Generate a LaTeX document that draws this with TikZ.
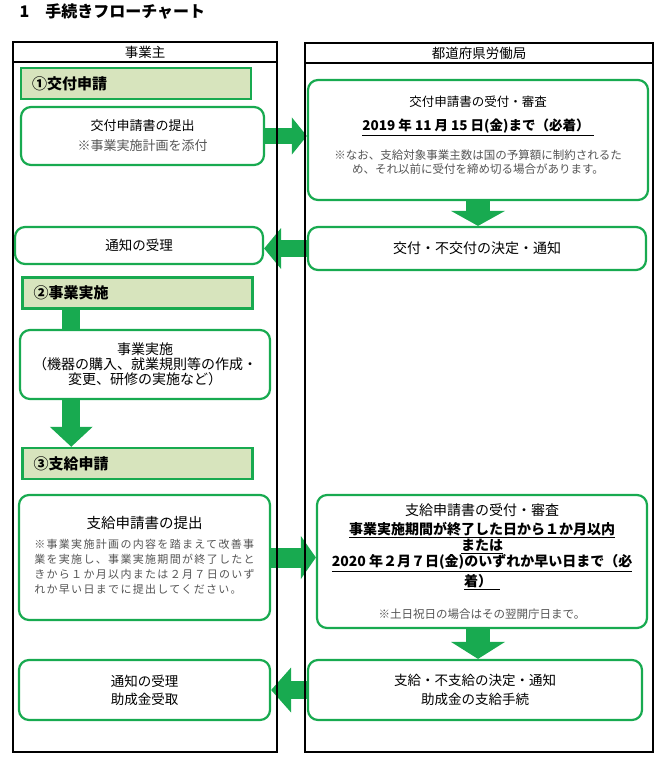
\documentclass[tikz,border=0pt]{standalone}
\usepackage{fontspec}
\setmainfont{Noto Sans CJK JP}
\newfontfamily\notefont[LetterSpace=12]{Noto Sans CJK JP}
\usetikzlibrary{arrows.meta}
\definecolor{jgreen}{RGB}{24,170,80}
\definecolor{jolive}{RGB}{215,228,189}
\definecolor{jnote}{RGB}{85,85,85}
\tikzset{
	flowbox/.style={draw=jgreen, line width=2.2pt, rounded corners=10pt, fill=white, align=center, inner sep=0pt},
	stagebox/.style={draw=jgreen, line width=2.5pt, fill=jolive, align=left, text width=208pt, inner xsep=11pt, inner ysep=0pt, minimum height=31pt, font=\fontsize{15}{16}\selectfont\bfseries},
	blockarrow/.style n args={3}{draw=jgreen, line width=#1, -{Triangle[width=#2, length=#3, line width=0pt]}},
	lane/.style={draw=black, line width=1.5pt}
}
\begin{document}
\begin{tikzpicture}[x=1pt, y=-1pt]
	\useasboundingbox (0,0) rectangle (662,765);
	
	\node [anchor=west, font=\fontsize{16}{18}\selectfont\bfseries] (title) at (16,12) {1　手続きフローチャート};
	
	\node [stagebox] (stage1) at (136,83.5) {①交付申請};
	\node [flowbox, minimum width=243pt, minimum height=58pt, font=\fontsize{13}{15}\selectfont] (sub1) at (142.5,136) {交付申請書の提出\\[5pt]{\color{jnote}※事業実施計画を添付}};
	\node [flowbox, minimum width=248pt, minimum height=37pt, font=\fontsize{13.5}{15}\selectfont] (recv1) at (139,245.5) {通知の受理};
	
	\node [stagebox] (stage2) at (137.5,293) {②事業実施};
	\node [flowbox, minimum width=250pt, minimum height=69pt, font=\fontsize{14}{15}\selectfont] (impl) at (145,364.5) {事業実施\\（機器の購入、就業規則等の作成・\\変更、研修の実施など）};
	
	\node [stagebox] (stage3) at (137.5,463.5) {③支給申請};
	\node [flowbox, minimum width=251pt, minimum height=125pt, font=\fontsize{11}{15}\selectfont] (sub2) at (144.5,557.5) {{\fontsize{14.5}{16}\selectfont 支給申請書の提出}\\[5pt]{\color{jnote}\notefont\fontsize{11}{15}\selectfont\begin{tabular}[t]{@{}l@{}}
		※事業実施計画の内容を踏まえて改善事\\
		業を実施し、事業実施期間が終了したと\\
		きから１か月以内または２月７日のいず\\
		れか早い日までに提出してください。
	\end{tabular}}};
	\node [flowbox, minimum width=251pt, minimum height=60pt, font=\fontsize{13.5}{18}\selectfont] (recv2) at (144.5,690) {通知の受理\\助成金受取};
	
	\node [flowbox, minimum width=340pt, minimum height=120pt, font=\fontsize{11.5}{14}\selectfont] (rc1) at (478,140) {{\fontsize{12.5}{14}\selectfont 交付申請書の受付・審査}\\[10pt]{\fontsize{13.5}{14}\selectfont\bfseries\underline{2019 年 11 月 15 日(金)まで（必着）\hspace{4pt}}}\\[13pt]{\color{jnote}※なお、支給対象事業主数は国の予算額に制約されるた}\\{\color{jnote}め、それ以前に受付を締め切る場合があります。}\rule[-11pt]{0pt}{11pt}};
	\node [flowbox, minimum width=338pt, minimum height=43pt, font=\fontsize{14}{15}\selectfont] (rc2) at (477,248.5) {交付・不交付の決定・通知};
	
	\node [flowbox, minimum width=330pt, minimum height=133pt, font=\fontsize{14}{15}\selectfont] (rc3) at (482,561.5) {支給申請書の受付・審査\\[4pt]\textbf{\underline{事業実施期間が終了した日から１か月以内}}\\[1pt]\textbf{\underline{または}}\\\textbf{\underline{2020 年２月７日(金)のいずれか早い日まで（必}}\\[2pt]\textbf{\underline{着）\hspace{8pt}}}\\[17pt]{\color{jnote}\fontsize{11.5}{14}\selectfont ※土日祝日の場合はその翌開庁日まで。}};
	\node [flowbox, minimum width=334pt, minimum height=60pt, font=\fontsize{13.5}{19}\selectfont] (rc4) at (475,690) {支給・不支給の決定・通知\\助成金の支給手続};
	
	\draw [blockarrow={15pt}{37pt}{15pt}] (sub1.east) -- (sub1.east -| rc1.west);
	\draw [blockarrow={24pt}{54pt}{15pt}] (rc1.south) -- (rc1.south |- rc2.north);
	\draw [blockarrow={17pt}{41pt}{17pt}] (rc2.west) -- (rc2.west -| recv1.east);
	\coordinate (lbar) at ([xshift=50pt]stage2.south west);
	\draw [jgreen, line width=18pt] (lbar) -- (lbar |- impl.north);
	\draw [blockarrow={18pt}{43pt}{20pt}] (impl.south -| lbar) -- (stage3.north -| lbar);
	\draw [blockarrow={20pt}{43pt}{15pt}] (sub2.east) -- (sub2.east -| rc3.west);
	\draw [blockarrow={24pt}{54pt}{17pt}] (rc3.south -| rc1.south) -- (rc4.north -| rc1.south);
	\draw [blockarrow={18pt}{45pt}{20pt}] (rc4.west) -- (rc4.west -| recv2.east);
	
	\draw [lane] (13,42) rectangle (277,752);
	\draw [lane] (13,62) -- (277,62);
	\node [font=\fontsize{13.5}{16}\selectfont] (owner) at (145,52) {事業主};
	\draw [lane] (305,43) rectangle (653,752);
	\draw [lane] (305,63) -- (653,63);
	\node [font=\fontsize{13.5}{16}\selectfont] (bureau) at (479,53) {都道府県労働局};
\end{tikzpicture}
\end{document}
